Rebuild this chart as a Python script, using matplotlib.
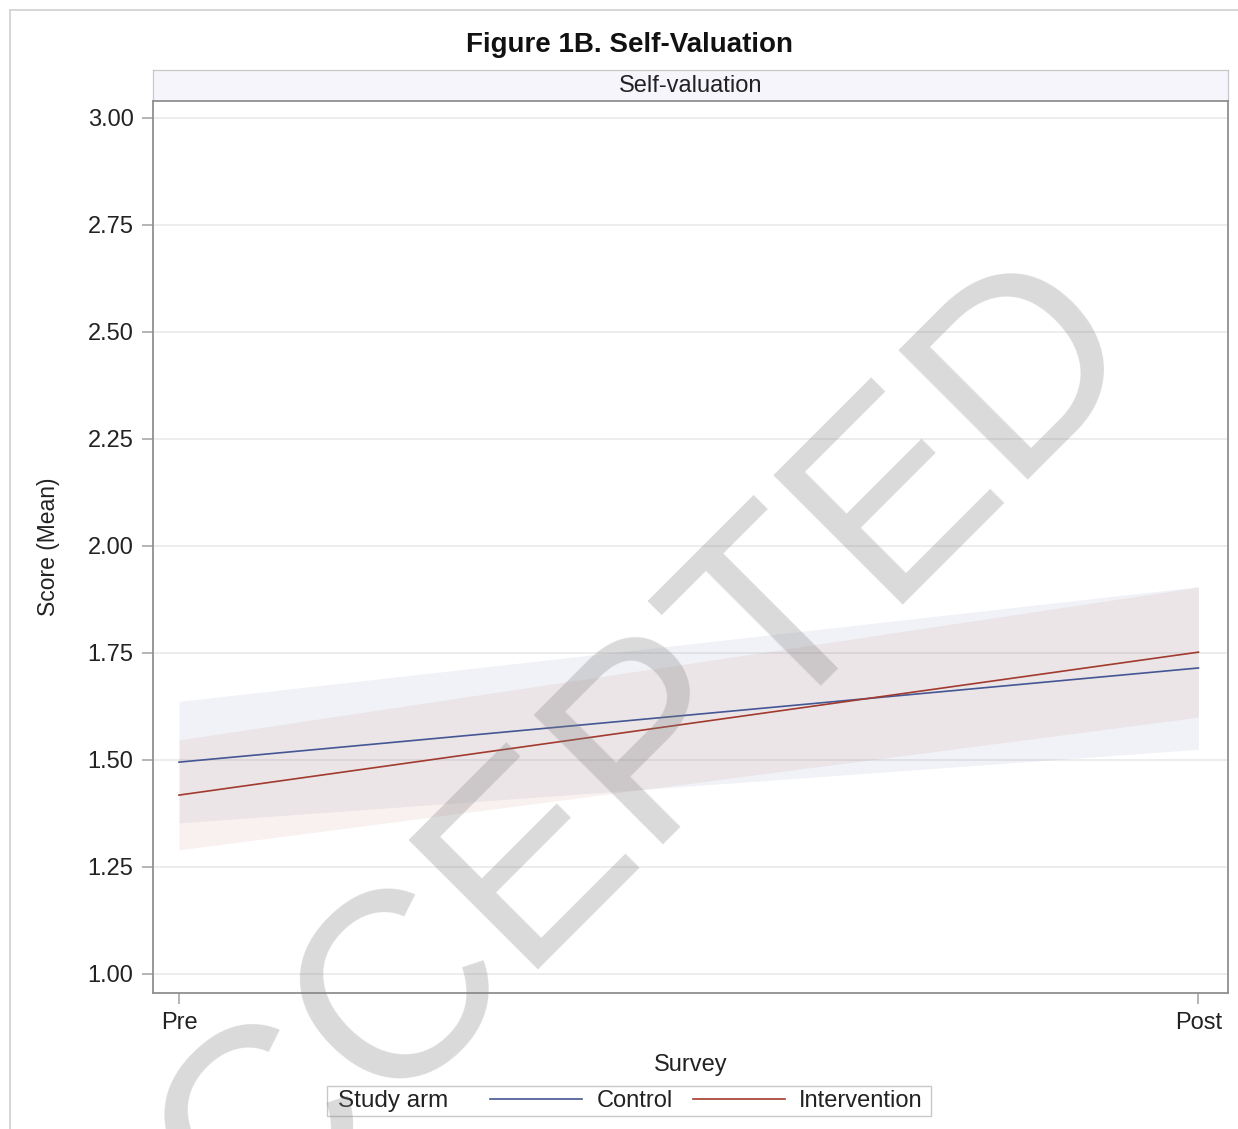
import matplotlib.pyplot as plt
from matplotlib.lines import Line2D
from matplotlib.patches import Rectangle

# data
surveys = ["Pre", "Post"]
control_mean = [1.495, 1.715]
control_lo = [1.353, 1.525]
control_hi = [1.637, 1.905]
interv_mean = [1.418, 1.752]
interv_lo = [1.290, 1.600]
interv_hi = [1.547, 1.904]
y_ticks = [1.00, 1.25, 1.50, 1.75, 2.00, 2.25, 2.50, 2.75, 3.00]

BLUE = "#445694"
RED = "#A23A2E"
W, H = 1238, 1129

plt.rcParams["font.family"] = ["Liberation Sans", "DejaVu Sans"]

fig = plt.figure(figsize=(W / 100, H / 100), dpi=100)


def fx(px):
    return px / W


def fy(py):
    return 1 - py / H


# outer frame (top and left edges visible)
fig.add_artist(Line2D([fx(10), 1], [fy(10), fy(10)], color="#d0d0d0", lw=1.2))
fig.add_artist(Line2D([fx(10), fx(10)], [fy(10), 0], color="#d0d0d0", lw=1.2))

fig.text(fx(630), fy(45), "Figure 1B. Self-Valuation", ha="center", va="center",
         fontsize=20, fontweight="bold", color="#111111")

# header strip
strip = fig.add_axes([fx(153), fy(101), fx(1228) - fx(153), fy(70) - fy(101)])
strip.set_facecolor("#f5f5fb")
strip.set_xticks([])
strip.set_yticks([])
for s in strip.spines.values():
    s.set_color("#c8c8c8")
    s.set_linewidth(0.9)
strip.text(0.5, 0.5, "Self-valuation", ha="center", va="center",
           fontsize=17, color="#222222", transform=strip.transAxes)

ax = fig.add_axes([fx(153), fy(993), fx(1228) - fx(153), fy(101) - fy(993)])
x = list(range(len(surveys)))

ax.fill_between(x, control_lo, control_hi, color=BLUE, alpha=0.075, lw=0)
ax.fill_between(x, interv_lo, interv_hi, color=RED, alpha=0.07, lw=0)
ax.plot(x, control_mean, color=BLUE, lw=1.2, label="Control")
ax.plot(x, interv_mean, color=RED, lw=1.2, label="Intervention")

ax.set_xlim(-0.0255, 1.029)
ax.set_ylim(0.9556, 3.0397)
ax.set_xticks(x)
ax.set_xticklabels(surveys)
ax.set_yticks(y_ticks)
ax.set_yticklabels([f"{v:.2f}" for v in y_ticks])
ax.grid(axis="y", color="#ececec", lw=1.3)
ax.set_axisbelow(True)
ax.tick_params(direction="out", length=8, width=1.2, color="#a8a8a8",
               labelsize=17, labelcolor="#222222", pad=6)
for s in ax.spines.values():
    s.set_color("#909090")
    s.set_linewidth(1.3)

ax.set_xlabel("Survey", fontsize=17, color="#222222", labelpad=14)
ax.set_ylabel("Score (Mean)", fontsize=16.5, color="#222222", labelpad=20)

# legend: frame and title drawn by hand, entries through the legend
fig.add_artist(Rectangle((fx(327), fy(1116)), fx(931) - fx(327), fy(1086) - fy(1116),
                         transform=fig.transFigure, fill=False,
                         edgecolor="#c8c8c8", lw=1.0))
fig.text(fx(338), fy(1101), "Study arm", ha="left", va="center",
         fontsize=17.5, color="#222222")
ax.legend(loc="center left", bbox_to_anchor=(fx(490), fy(1101)),
          bbox_transform=fig.transFigure, ncol=2, frameon=False,
          fontsize=17, handlelength=3.9, handletextpad=0.6,
          columnspacing=0.85, borderpad=0, borderaxespad=0,
          labelcolor="#222222")

# manuscript watermark
fig.text(fx(127), fy(1380), "ACCEPTED", rotation=45, rotation_mode="anchor",
         ha="left", va="baseline", fontsize=191, color="#808080", alpha=0.29,
         zorder=10)

fig.savefig("out.png", dpi=100)
